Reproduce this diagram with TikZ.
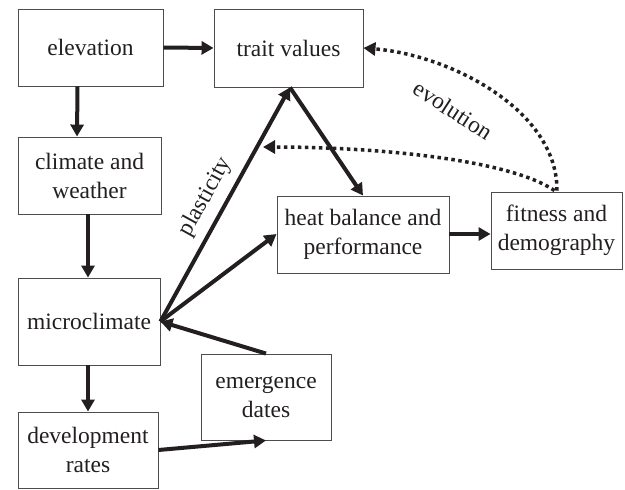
\documentclass[tikz,border=0pt]{standalone}
\usepackage{fontspec}
\setmainfont{Liberation Serif}
\usetikzlibrary{arrows.meta}
\definecolor{ink}{HTML}{231F20}
\begin{document}
\begin{tikzpicture}[x=1pt,y=-1pt,
  box/.style={draw=ink!80,line width=0.9pt,inner sep=0pt,align=center,text=ink,
    font=\fontsize{23.5}{29}\selectfont},
  arr/.style={draw=ink,line width=4pt,-{Triangle[length=12pt,width=13pt]}},
  dotarr/.style={draw=ink,line width=3.5pt,dash pattern=on 3.5pt off 3.5pt,
    -{Triangle[length=12pt,width=13pt]}},
  lbl/.style={text=ink,font=\fontsize{23.5}{29}\selectfont,inner sep=0pt}]
\useasboundingbox (0,0) rectangle (625,490);
\node[box,minimum width=145pt,minimum height=77pt] (elev) at (90.5,47.5) {elevation};
\node[box,minimum width=149pt,minimum height=78pt] (trait) at (288.5,48) {trait values};
\node[box,minimum width=143pt,minimum height=77pt] (clim) at (89.5,175.5) {climate and\\weather};
\node[box,minimum width=142pt,minimum height=87pt] (micro) at (89,321.5) {microclimate};
\node[box,minimum width=140pt,minimum height=76pt] (dev) at (88,450) {development\\rates};
\node[box,minimum width=130pt,minimum height=86pt] (emerg) at (266,397) {emergence\\dates};
\node[box,minimum width=172pt,minimum height=77pt] (heat) at (363,234.5) {heat balance and\\performance};
\node[box,minimum width=131pt,minimum height=77pt] (fit) at (556.5,230.5) {fitness and\\demography};
\coordinate (dotend) at (263,147);

\draw[arr] (elev.east) -- (trait.west);
\draw[arr] ([xshift=-13pt]elev.south) -- ([xshift=-12.5pt]clim.north);
\draw[arr] ([xshift=-1.5pt]clim.south) -- ([xshift=-1pt]micro.north);
\draw[arr] ([xshift=-1pt]micro.south) -- (dev.north);
\draw[arr] (dev.east) -- (emerg.south);
\draw[arr] (emerg.north) -- (micro.east);
\draw[arr] (micro.east) -- node[lbl,sloped,above=8pt,pos=0.49] {plasticity} ([xshift=1.5pt]trait.south);
\draw[arr] (micro.east) -- ([yshift=0.5pt]heat.west);
\draw[arr] ([xshift=1.5pt]trait.south) -- (heat.north);
\draw[arr] ([yshift=0.5pt]heat.east) -- ([yshift=0.5pt]heat.east -| fit.west);
\draw[dotarr] ([xshift=0.5pt,yshift=1pt]fit.north) .. controls (557.5,110) and (450,55) .. (trait.east);
\draw[dotarr] ([xshift=-2pt,yshift=1pt]fit.north) .. controls (510,160) and (380,147) .. (dotend);
\node[lbl,rotate=-33] (evo) at (453,110) {evolution};
\end{tikzpicture}
\end{document}
